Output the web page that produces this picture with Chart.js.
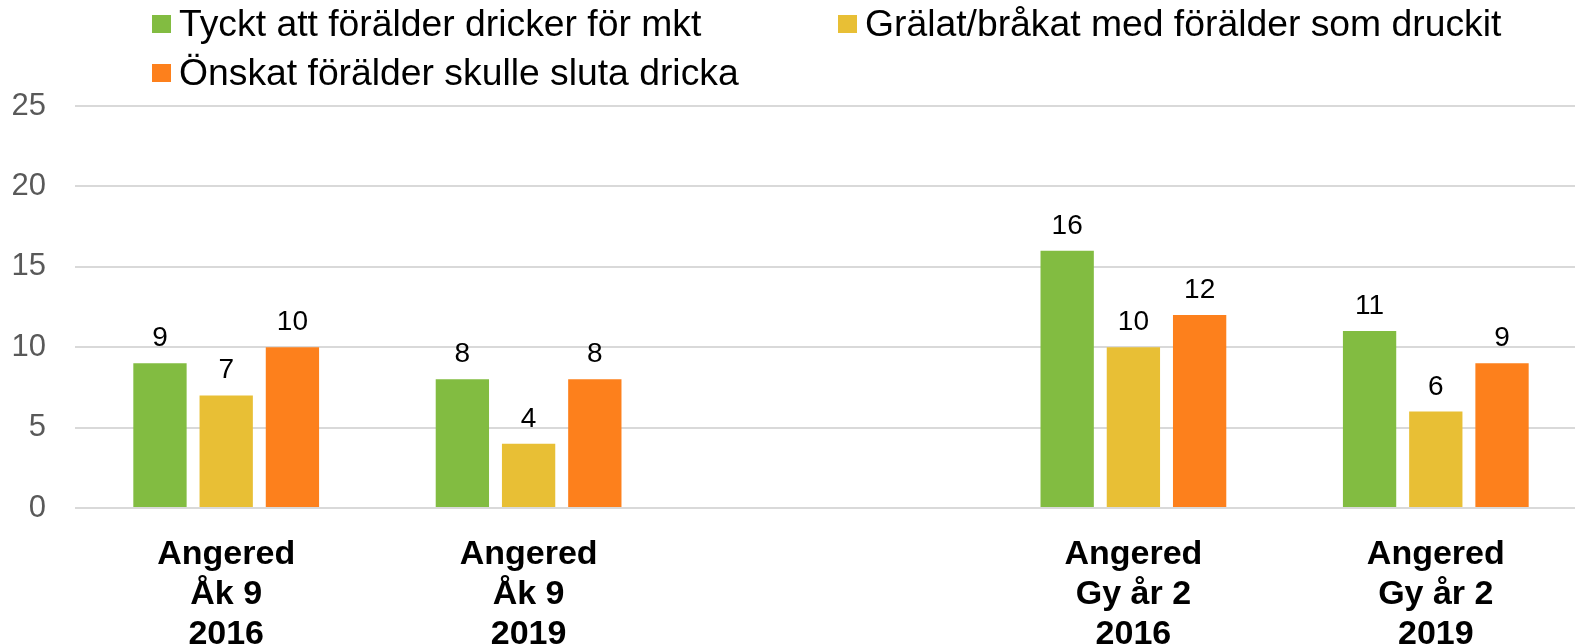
<!DOCTYPE html>
<html>
<head>
<meta charset="utf-8">
<script src="https://cdn.jsdelivr.net/npm/chart.js@4"></script>
<style>
    body { margin: 0; background: #fff; overflow: hidden; }
    #wrap { position: relative; width: 1575px; height: 644px; overflow: hidden; }
    #myChart { position: absolute; left: 0; top: 0; }
    .leg { position: absolute; height: 36px; font-family: "Liberation Sans", Arial, sans-serif; font-size: 37.3px; color: #000; white-space: nowrap; line-height: 36px; }
    .leg .box { position: absolute; left: 0; top: 10px; width: 19px; height: 18px; }
    .leg .txt { position: absolute; left: 27px; top: 0; }
</style>
</head>
<body>
<div id="wrap">
    <canvas id="myChart" width="1588" height="644"></canvas>
</div>
<script>
// categories (multi-line labels), empty slot in the middle
var categories = [
    ["Angered", "Åk 9", "2016"],
    ["Angered", "Åk 9", "2019"],
    "",
    ["Angered", "Gy år 2", "2016"],
    ["Angered", "Gy år 2", "2019"]
];
var seriesNames = ["Tyckt att förälder dricker för mkt", "Grälat/bråkat med förälder som druckit", "Önskat förälder skulle sluta dricka"];
var tyckt = [9, 8, null, 16, 11];
var gralat = [7, 4, null, 10, 6];
var onskat = [10, 8, null, 12, 9];
var yTicks = [0, 5, 10, 15, 20, 25];

var colors = ["#82BC41", "#E8BF35", "#FD801C"];
// legend placement (left, center y) for each series
var legendPos = [[152, 23], [838, 23], [152, 72]];

var ctx = document.getElementById("myChart");

var data = {
    labels: categories,
    datasets: [tyckt, gralat, onskat].map(function(vals, i) {
        return {
            label: seriesNames[i],
            data: vals,
            backgroundColor: colors[i],
            categoryPercentage: 0.657,
            barPercentage: 0.805
        };
    })
};

// html legend built from the datasets
data.datasets.forEach(function(ds, i) {
    var d = document.createElement("div");
    d.className = "leg";
    d.style.left = legendPos[i][0] + "px";
    d.style.top = (legendPos[i][1] - 18) + "px";
    d.innerHTML = '<span class="box" style="background:' + ds.backgroundColor + '"></span><span class="txt">' + ds.label + '</span>';
    document.getElementById("wrap").appendChild(d);
});

// value labels above the bars
var valueLabels = {
    id: "valueLabels",
    afterDatasetsDraw: function(chart) {
        var c = chart.ctx;
        c.save();
        c.font = "28px 'Liberation Sans', Arial, sans-serif";
        c.fillStyle = "#000";
        c.textAlign = "center";
        c.textBaseline = "alphabetic";
        chart.data.datasets.forEach(function(ds, i) {
            chart.getDatasetMeta(i).data.forEach(function(bar, j) {
                if (ds.data[j] == null) return;
                c.fillText(ds.data[j], bar.x, bar.y - 17);
            });
        });
        c.restore();
    }
};

var options = {
    responsive: false,
    animation: false,
    layout: { padding: { top: 106, left: 9, right: 1, bottom: 0 } },
    plugins: {
        legend: { display: false },
        tooltip: { enabled: false }
    },
    scales: {
        x: {
            afterFit: function(axis) { axis.height = 136; },
            grid: { display: false },
            border: { display: false },
            ticks: {
                color: "#000",
                padding: 19,
                maxRotation: 0,
                autoSkip: false,
                font: { family: "'Liberation Sans', Arial, sans-serif", size: 34, weight: "bold", lineHeight: 1.17 }
            }
        },
        y: {
            min: 0,
            max: 25,
            afterFit: function(axis) { axis.width = 66; },
            afterBuildTicks: function(axis) {
                axis.ticks = yTicks.map(function(v) { return { value: v }; });
            },
            grid: { color: "#D9D9D9", lineWidth: 2, drawTicks: false },
            border: { display: false },
            ticks: {
                color: "#595959",
                padding: 29,
                font: { family: "'Liberation Sans', Arial, sans-serif", size: 31 }
            }
        }
    }
};

var barChart = new Chart(ctx, {
    type: "bar",
    data: data,
    options: options,
    plugins: [valueLabels]
});
</script>
</body>
</html>
